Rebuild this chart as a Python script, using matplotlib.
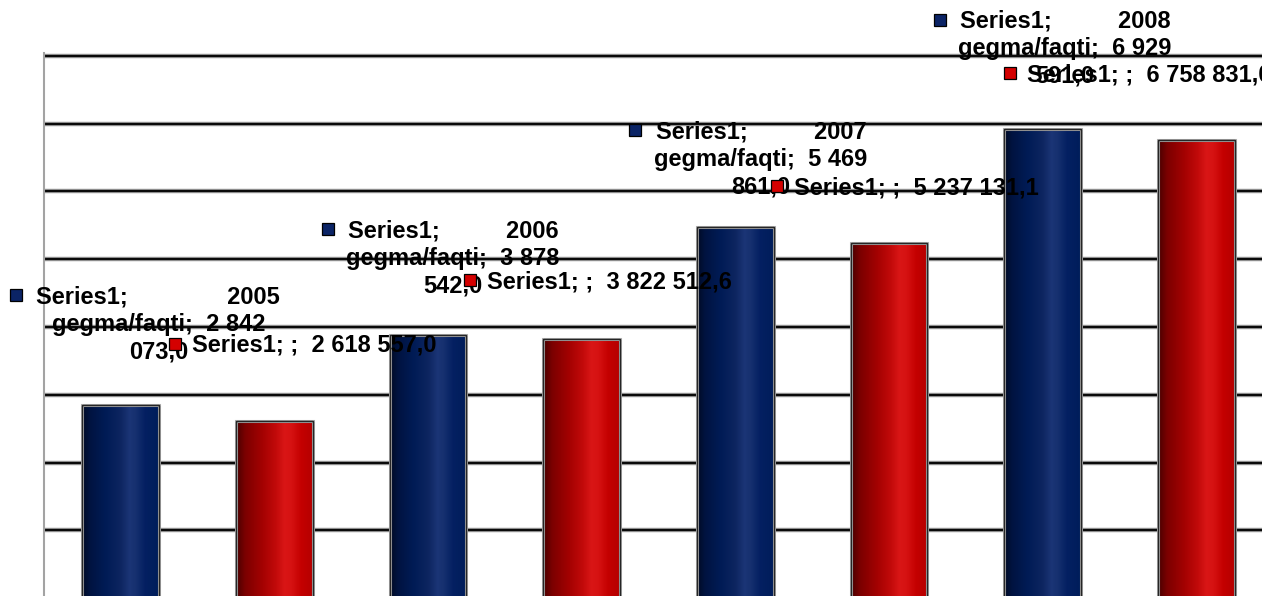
import numpy as np
import matplotlib
matplotlib.use("Agg")
import matplotlib.pyplot as plt
from matplotlib.colors import LinearSegmentedColormap
import matplotlib.patheffects as pe

# ---------------- data ----------------
series_name = "Series1"
years = ["2005", "2006", "2007", "2008"]
category_suffix = "gegma/faqti"
plan_values = [2842073.0, 3878542.0, 5469861.0, 6929591.0]      # blue bars
actual_values = [2618557.0, 3822512.6, 5237131.1, 6758831.0]    # red bars

# ---------------- layout / style ----------------
plt.rcParams['font.family'] = ['Liberation Sans', 'DejaVu Sans']
W, H, DPI = 1262, 596, 100
FS = 17
LINE_H = 27.5
blue_label_off = [(37.5, 102), (25, 98), (25.5, 89), (22.5, 101)]
blue_gap_spaces = [15, 10, 10, 10]
red_label_off = [(-82, 69), (-94.5, 51), (-94.5, 49), (-169.5, 59)]

blue_cmap = LinearSegmentedColormap.from_list("b", [
    (0.0, '#000a22'), (0.1, '#001340'), (0.3, '#001b55'), (0.5, '#0d2560'),
    (0.62, '#1b3576'), (0.7, '#16306f'), (0.82, '#042062'), (1.0, '#001d5a')])
red_cmap = LinearSegmentedColormap.from_list("r", [
    (0.0, '#480000'), (0.12, '#7c0000'), (0.35, '#a50202'), (0.52, '#c20a0a'),
    (0.63, '#d91616'), (0.72, '#d61212'), (0.85, '#c40000'), (1.0, '#b50000')])


def fmt(v):
    return f"{v:,.1f}".replace(",", " ").replace(".", ",")


fig = plt.figure(figsize=(W / DPI, H / DPI), dpi=DPI)
top_extra = 2.7
ax = fig.add_axes([44 / W, -2 / H, 1229 / W, (542 + top_extra) / H])

n = len(years)
xs = np.arange(2 * n)
vals = np.ravel(np.column_stack([plan_values, actual_values]))

bars = ax.bar(xs, vals, width=0.5, facecolor='none', edgecolor='#262626',
              linewidth=0.9, zorder=4)
for b in bars:
    b.set_path_effects([pe.withStroke(linewidth=2.2, foreground='#b0b0b0'), pe.Normal()])

grad = np.linspace(0, 1, 256).reshape(1, -1)
cmaps = [blue_cmap, red_cmap]
for i, b in enumerate(bars):
    x0, w, h = b.get_x(), b.get_width(), b.get_height()
    im = ax.imshow(grad, cmap=cmaps[i % 2], extent=[x0, x0 + w, 0, h],
                   aspect='auto', zorder=3, interpolation='bilinear')
    im.set_clip_path(b)

ax.set_xlim(-0.5, 2 * n - 0.5)
ymax = 8e6 * (542 + top_extra) / 542
ax.set_ylim(0, ymax)
ax.set_yticks(np.arange(0, 8e6 + 1, 1e6))
ax.set_axisbelow(True)
ax.yaxis.grid(True, color='#0a0a0a', linewidth=1.5)
for gl in ax.get_ygridlines():
    gl.set_path_effects([pe.withStroke(linewidth=3.2, foreground='#9a9a9a'), pe.Normal()])
ax.tick_params(left=False, bottom=False, labelleft=False, labelbottom=False)
for s in ['top', 'right', 'bottom']:
    ax.spines[s].set_visible(False)
ax.spines['left'].set_color('#a3a3a3')
ax.spines['left'].set_linewidth(1.5)

# ---------------- labels ----------------
blue_line1 = []
red_texts = []
for k in range(n):
    xb, vb = xs[2 * k], plan_values[k]
    dx, dy = blue_label_off[k]
    head, tail = fmt(vb).rsplit(" ", 1)
    lines = [f"{series_name};" + " " * blue_gap_spaces[k] + years[k],
             f"{category_suffix};  {head}", tail]
    for j, s in enumerate(lines):
        t = ax.annotate(s, xy=(xb, vb), xytext=(dx, dy - j * LINE_H),
                        textcoords='offset pixels', ha='center', va='baseline',
                        fontsize=FS, fontweight='bold', color='black', zorder=6,
                        annotation_clip=False)
        if j == 0:
            blue_line1.append((t, xb, vb, dx, dy))
    xr, vr = xs[2 * k + 1], actual_values[k]
    rdx, rdy = red_label_off[k]
    t = ax.annotate(f"{series_name}; ;  {fmt(vr)}", xy=(xr, vr), xytext=(rdx, rdy),
                    textcoords='offset pixels', ha='left', va='baseline',
                    fontsize=FS, fontweight='bold', color='black', zorder=6,
                    annotation_clip=False)
    red_texts.append((t, xr, vr, rdx, rdy))

fig.canvas.draw()
renderer = fig.canvas.get_renderer()
inv = ax.transData.inverted()
for t, x, v, dx, dy in blue_line1:
    bb = t.get_window_extent(renderer)
    base = ax.transData.transform((x, v))
    mx, my = inv.transform((bb.x0 - 20, base[1] + dy + 8))
    ax.plot([mx], [my], marker='s', ms=8.0, mfc='#0b2466', mec='black', mew=0.9,
            zorder=7, clip_on=False, linestyle='none')
for t, x, v, dx, dy in red_texts:
    base = ax.transData.transform((x, v))
    mx, my = inv.transform((base[0] + dx - 17, base[1] + dy + 8))
    ax.plot([mx], [my], marker='s', ms=8.0, mfc='#d40000', mec='black', mew=0.9,
            zorder=7, clip_on=False, linestyle='none')

fig.savefig("out.png", dpi=DPI)
